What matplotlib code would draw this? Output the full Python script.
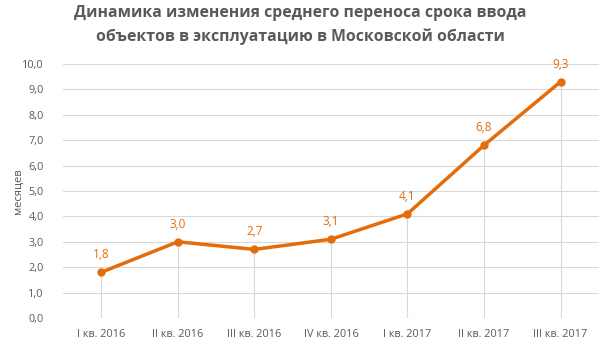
import numpy as np
import matplotlib.pyplot as plt

plt.rcParams["font.family"] = ["Open Sans", "DejaVu Sans"]

# данные
quarters = ["I кв. 2016", "II кв. 2016", "III кв. 2016", "IV кв. 2016",
            "I кв. 2017", "II кв. 2017", "III кв. 2017"]
values = [1.8, 3.0, 2.7, 3.1, 4.1, 6.8, 9.3]
yticks = np.arange(0, 10.01, 1.0)

orange = "#E46C0A"
gray = "#595959"

fig = plt.figure(figsize=(6, 3.46), dpi=100)
ax = fig.add_axes([0.105, 0.081, 0.893, 0.734])

x = np.arange(len(quarters))

# вертикальные линии от точек к оси
ax.vlines(x, 0, values, color="#D9D9D9", linewidth=0.8, zorder=1)
ax.plot(x, values, color=orange, linewidth=2.5, marker="o", markersize=5, zorder=3)

for xi, v in zip(x, values):
    ax.annotate(f"{v:.1f}".replace(".", ","), (xi, v), xytext=(0, 8),
                textcoords="offset points", ha="center", va="bottom",
                color=orange, fontsize=8.5)

ax.set_xlim(-0.5, len(quarters) - 0.5)
ax.set_ylim(0, 10)
ax.set_yticks(yticks)
ax.set_yticklabels([f"{t:.1f}".replace(".", ",") for t in yticks])
ax.set_xticks(x)
ax.set_xticklabels(quarters)
ax.grid(axis="y", color="#D9D9D9", linewidth=0.8)
ax.set_axisbelow(True)
for s in ax.spines.values():
    s.set_visible(False)
ax.tick_params(length=0, colors=gray, labelsize=7.8)
ax.tick_params(axis="y", pad=14)
ax.tick_params(axis="x", pad=8)

ax.set_ylabel("месяцев", color=gray, fontsize=8)
ax.yaxis.set_label_coords(-0.073, 0.5)

fig.text(0.5, 0.985, "Динамика изменения среднего переноса срока ввода\nобъектов в эксплуатацию в Московской области",
         ha="center", va="top", fontsize=11.3, fontweight="bold", color=gray,
         linespacing=1.55)

plt.savefig("out.png", dpi=100)
